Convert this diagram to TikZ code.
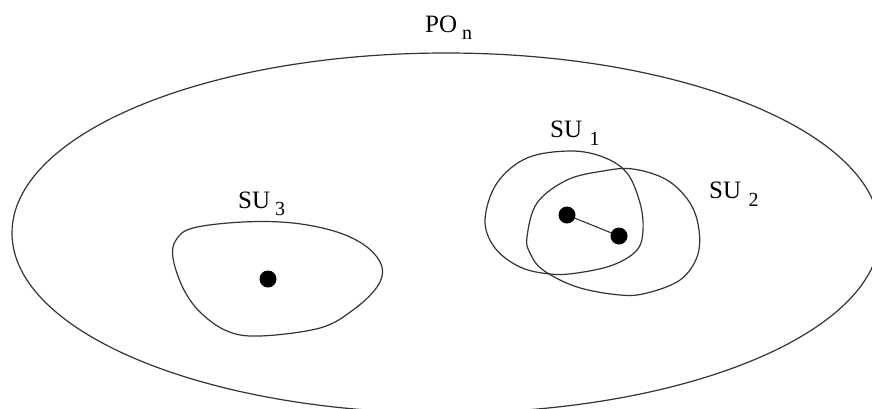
\documentclass[tikz,border=0pt]{standalone}
\usepackage{fontspec}
\setmainfont{Liberation Serif}
\usepackage{tikz}
\usetikzlibrary{positioning}
\newcommand{\subsz}{\fontsize{20}{20}\selectfont}

\begin{document}
\begin{tikzpicture}[
    x=1pt, y=-1pt,
    outline/.style={
        draw=black!80,
        line width=1.2pt
    },
    blob/.style={
        smooth cycle,
        tension=0.6
    },
    unit/.style={
        circle,
        fill=black,
        inner sep=0pt,
        minimum size=17pt
    },
    link/.style={
        draw=black!80,
        line width=1.1pt
    },
    setlabel/.style={
        anchor=base west,
        inner sep=0pt,
        font=\fontsize{25}{25}\selectfont
    }
]

\useasboundingbox (0,0) rectangle (872,408);

% Outer set
\draw[outline] (446,233) ellipse [x radius=434, y radius=180];
\node[setlabel] (PO) at (425,32) {PO\hspace{0.2em}\raisebox{-7pt}{\subsz n}};

% Sub-units
\draw[outline] plot[blob] coordinates {(176,240) (173,258) (183,288) (200,312) (227,331) (260,336) (320,328) (353,310) (377,287) (382,267) (367,247) (337,232) (293,223) (243,222) (193,228)};
\draw[outline] plot[blob] coordinates {(485,220) (497,183) (527,158) (570,151) (603,157) (627,173) (640,203) (643,230) (637,250) (613,265) (577,273) (550,274) (520,267) (495,248)};
\draw[outline] plot[blob] coordinates {(527,237) (537,203) (567,180) (603,171) (633,169) (667,180) (690,203) (699,230) (697,257) (680,280) (647,293) (620,295) (577,287) (543,270) (530,253)};

\node[setlabel] (SU1) at (550,137) {SU\hspace{0.3em}\raisebox{-8pt}{\subsz 1}};
\node[setlabel] (SU2) at (709,198) {SU\hspace{0.3em}\raisebox{-8pt}{\subsz 2}};
\node[setlabel] (SU3) at (238,208) {SU\hspace{0.2em}\raisebox{-7pt}{\subsz 3}};

% Units
\node[unit] (u3) at (268,279) {};
\node[unit] (u1) at (567,215) {};
\node[unit] (u2) at (619,236) {};
\path[link] (u1) -- (u2);

\end{tikzpicture}
\end{document}
